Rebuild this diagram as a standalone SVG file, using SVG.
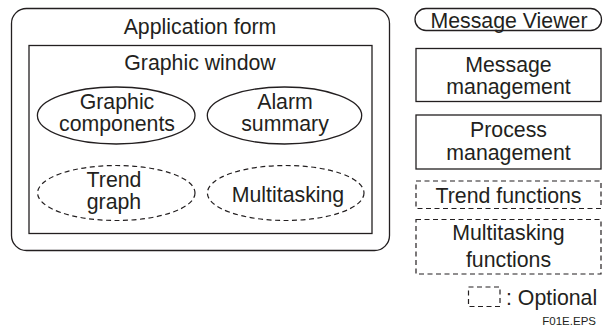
<svg xmlns="http://www.w3.org/2000/svg" width="606" height="329" viewBox="0 0 606 329">
<style>
text{font-family:"Liberation Sans",Arial,Helvetica,sans-serif;font-size:21.3px;fill:#231f20;text-anchor:middle}
.s{fill:none;stroke:#231f20;stroke-width:1.3}
.d{fill:none;stroke:#231f20;stroke-width:1.2;stroke-dasharray:5 3.5}
.small{font-size:11.5px}
</style>
<rect width="606" height="329" fill="#fff"/>
<g id="application-form">
<rect class="s" x="11.5" y="8.5" width="378" height="242" rx="15"/>
<text x="200" y="34">Application form</text>
</g>
<g id="graphic-window">
<rect class="s" x="29" y="45.5" width="343" height="188"/>
<text x="200" y="70">Graphic window</text>
</g>
<g id="graphic-components">
<ellipse class="s" cx="116.2" cy="115.5" rx="78.8" ry="28.5"/>
<text x="117" y="108.5">Graphic</text>
<text x="117" y="130.5">components</text>
</g>
<g id="alarm-summary">
<ellipse class="s" cx="284.5" cy="115.5" rx="77.2" ry="28.5"/>
<text x="285" y="108.5">Alarm</text>
<text x="285" y="130.5">summary</text>
</g>
<g id="trend-graph">
<ellipse class="d" cx="116.3" cy="193" rx="78.7" ry="27.5"/>
<text x="114" y="186.5">Trend</text>
<text x="114" y="208.5">graph</text>
</g>
<g id="multitasking">
<ellipse class="d" cx="285.7" cy="193" rx="78.3" ry="27.5"/>
<text x="288" y="201.5">Multitasking</text>
</g>
<g id="message-viewer">
<rect class="s" x="415" y="8.5" width="186.5" height="22" rx="11"/>
<text x="509" y="27.5">Message Viewer</text>
</g>
<g id="message-management">
<rect class="s" x="416" y="48.5" width="185" height="53"/>
<text x="508.5" y="71.5">Message</text>
<text x="508.5" y="94">management</text>
</g>
<g id="process-management">
<rect class="s" x="416" y="115" width="185" height="54"/>
<text x="508.5" y="137">Process</text>
<text x="508.5" y="160">management</text>
</g>
<g id="trend-functions">
<rect class="d" x="416" y="181" width="185" height="27.5"/>
<text x="508.5" y="203">Trend functions</text>
</g>
<g id="multitasking-functions">
<rect class="d" x="416" y="219.5" width="185" height="54.5"/>
<text x="508.5" y="240">Multitasking</text>
<text x="508.5" y="267">functions</text>
</g>
<g id="legend">
<rect class="d" x="468.5" y="287" width="31.5" height="19.5"/>
<text x="506" y="305" style="text-anchor:start">: Optional</text>
</g>
<g id="connectors"></g>
<text class="small" x="596" y="325" style="text-anchor:end">F01E.EPS</text>
</svg>
